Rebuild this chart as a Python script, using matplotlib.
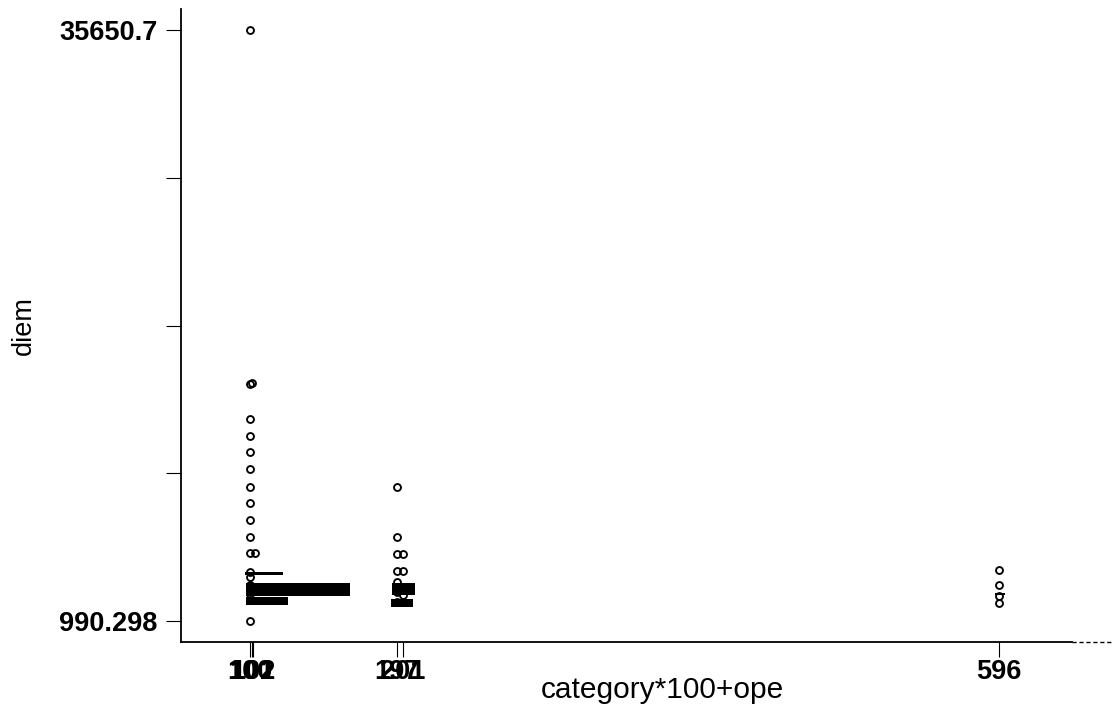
import numpy as np
import matplotlib
matplotlib.use("Agg")
import matplotlib.pyplot as plt
from matplotlib.lines import Line2D

plt.rcParams['font.family'] = ['Liberation Sans', 'DejaVu Sans']

# diem par category*100+ope
x_pts = [100, 100, 101, 100, 100, 100, 100, 100, 100, 100, 100, 100, 103, 100, 100,
         197, 197, 197, 201, 197, 201,
         596, 596, 596, 596]
y_pts = [35650.7, 14890, 14950, 12837, 11840, 10902, 9905, 8849, 7911, 6914, 5917, 4978, 4978, 3864, 990.298,
         8849, 5917, 4920, 4920, 3923, 3923,
         3980, 3100, 2456, 2046]

# amas denses : centre, epaisseur, debut et fin en x
band_y = [3805, 2838, 2163, 2868, 2046, 2574]
band_h = [176, 762, 469, 704, 469, 117]
band_x0 = [96.5, 97.2, 97.2, 193.9, 193.2, 593.7]
band_x1 = [121.7, 166.0, 125.0, 209.1, 207.8, 600.3]

# points a l'interieur des amas
dense_x = [100, 100, 100, 100, 197, 197, 201, 197]
dense_y = [3600, 3100, 2600, 2200, 3300, 2700, 2500, 2100]

y_min, y_max = 990.298, 35650.7
x_ticks = [100, 101, 102, 197, 201, 596]

fig = plt.figure(figsize=(11.12, 7.18), dpi=100)
ax = fig.add_axes([0.1628, 0.1058, 0.8012, 0.8817])

ax.barh(band_y, np.array(band_x1) - np.array(band_x0), left=band_x0, height=band_h,
        color='black', linewidth=0)
ax.plot(dense_x, dense_y, 'o', mfc='none', mec='black', ms=5, mew=1.35)
ax.plot(x_pts, y_pts, 'o', mfc='none', mec='black', ms=5, mew=1.35)

ax.set_xlim(54.1, 644.4)
ax.set_ylim(-241.3, 36882.3)

y_ticks = np.linspace(y_min, y_max, 5)
ax.set_yticks(y_ticks)
ax.set_yticklabels(['990.298', '', '', '', '35650.7'])
ax.set_xticks(x_ticks)
ax.set_xticklabels([str(v) for v in x_ticks])

ax.tick_params(axis='both', direction='out', length=11, width=0.8, labelsize=19.5)
ax.tick_params(axis='y', pad=6)
ax.tick_params(axis='x', pad=1)
for lab in ax.get_xticklabels() + ax.get_yticklabels():
    lab.set_fontweight('bold')

ax.spines['top'].set_visible(False)
ax.spines['right'].set_visible(False)
ax.spines['left'].set_linewidth(1.3)
ax.spines['bottom'].set_linewidth(1.3)

ax.set_xlabel('category*100+ope', fontsize=21.5)
ax.xaxis.label.set_va('center')
ax.xaxis.set_label_coords(0.54, -0.076)
ax.set_ylabel('diem', fontsize=19.5, labelpad=16)

# bout pointille au bout de l'axe des x
fig.add_artist(Line2D([0.964, 1.0], [0.1058, 0.1058], transform=fig.transFigure,
                      color='black', lw=1.0, ls=(0, (3, 2))))

fig.savefig('out.png', dpi=100)
